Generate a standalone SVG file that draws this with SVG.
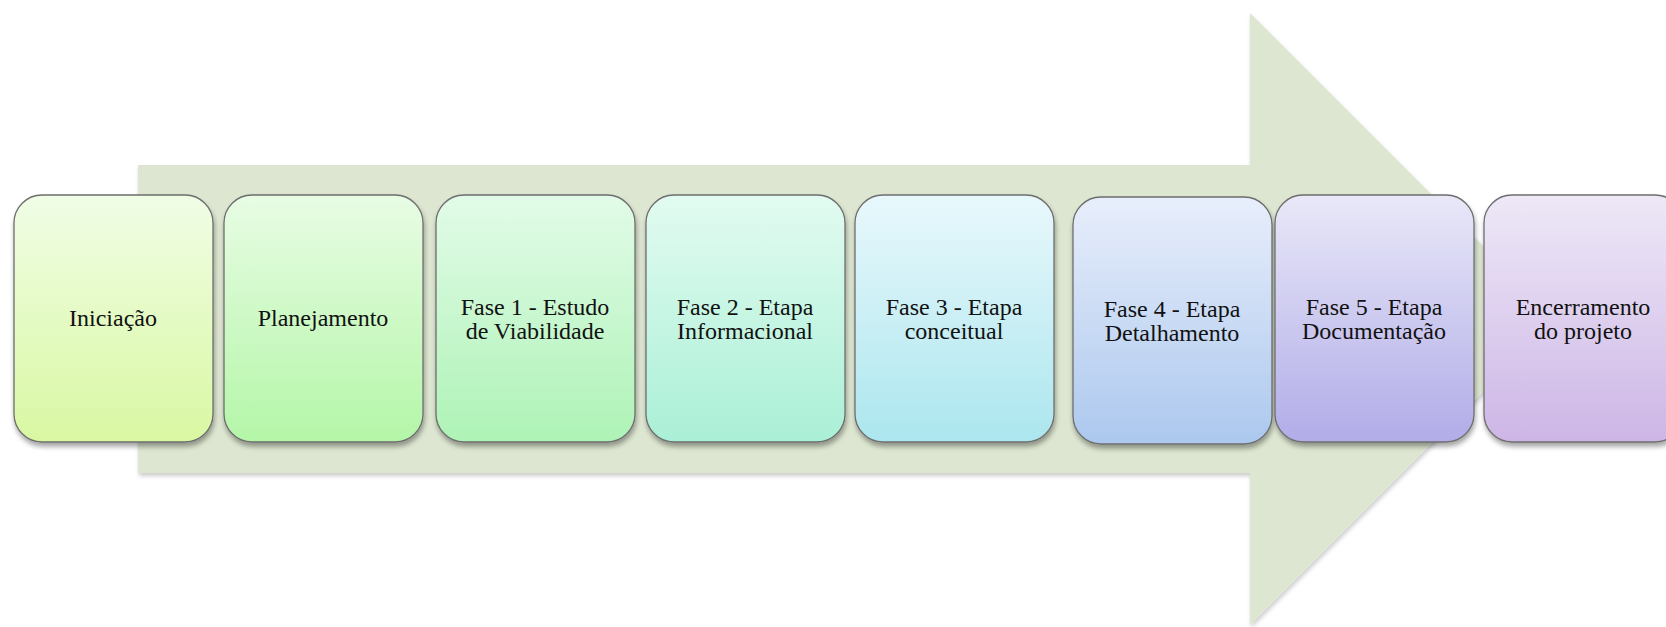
<svg xmlns="http://www.w3.org/2000/svg" width="1666" height="627" viewBox="0 0 1666 627">
<defs>
<filter id="sh" x="-10%" y="-10%" width="120%" height="125%">
<feGaussianBlur in="SourceAlpha" stdDeviation="2.5"/>
<feOffset dx="1" dy="4" result="b"/>
<feComponentTransfer><feFuncA type="linear" slope="0.35"/></feComponentTransfer>
<feMerge><feMergeNode/><feMergeNode in="SourceGraphic"/></feMerge>
</filter>
<filter id="ash" x="-5%" y="-5%" width="110%" height="110%">
<feGaussianBlur in="SourceAlpha" stdDeviation="2"/>
<feOffset dx="1" dy="3" result="b"/>
<feComponentTransfer><feFuncA type="linear" slope="0.2"/></feComponentTransfer>
<feMerge><feMergeNode/><feMergeNode in="SourceGraphic"/></feMerge>
</filter>
<linearGradient id="g1" x1="0" y1="0" x2="0" y2="1"><stop offset="0" stop-color="#f0fde6"/><stop offset="1" stop-color="#d9f8a2"/></linearGradient>
<linearGradient id="g2" x1="0" y1="0" x2="0" y2="1"><stop offset="0" stop-color="#e8fce4"/><stop offset="1" stop-color="#b4f6a8"/></linearGradient>
<linearGradient id="g3" x1="0" y1="0" x2="0" y2="1"><stop offset="0" stop-color="#e2fbe8"/><stop offset="1" stop-color="#aef3b6"/></linearGradient>
<linearGradient id="g4" x1="0" y1="0" x2="0" y2="1"><stop offset="0" stop-color="#e2fbf0"/><stop offset="1" stop-color="#aaf0d6"/></linearGradient>
<linearGradient id="g5" x1="0" y1="0" x2="0" y2="1"><stop offset="0" stop-color="#e8f8fc"/><stop offset="1" stop-color="#ace6ee"/></linearGradient>
<linearGradient id="g6" x1="0" y1="0" x2="0" y2="1"><stop offset="0" stop-color="#e8eefb"/><stop offset="1" stop-color="#acc8ee"/></linearGradient>
<linearGradient id="g7" x1="0" y1="0" x2="0" y2="1"><stop offset="0" stop-color="#e8e8f8"/><stop offset="1" stop-color="#b2ace8"/></linearGradient>
<linearGradient id="g8" x1="0" y1="0" x2="0" y2="1"><stop offset="0" stop-color="#eee8f7"/><stop offset="1" stop-color="#cdb6e6"/></linearGradient>
</defs>
<style>
.box{stroke:#6e6e6e;stroke-width:1.3;filter:url(#sh)}
.t{font-family:"Liberation Serif","DejaVu Serif",serif;font-size:24px;fill:#111;text-anchor:middle}
</style>
<rect width="1666" height="627" fill="#ffffff"/>
<g id="arrow">
<polygon points="138,165 1250,165 1250,13 1556,319 1250,625 1250,473 138,473" fill="#dde6d1" filter="url(#ash)"/>
</g>
<g id="connectors"></g>
<g id="n1"><rect class="box" x="14" y="195" width="199" height="247" rx="28" fill="url(#g1)"/><text class="t" x="113" y="326">Iniciação</text></g>
<g id="n2"><rect class="box" x="224" y="195" width="199" height="247" rx="28" fill="url(#g2)"/><text class="t" x="323" y="326">Planejamento</text></g>
<g id="n3"><rect class="box" x="436" y="195" width="199" height="247" rx="28" fill="url(#g3)"/><text class="t" x="535" y="315">Fase 1 - Estudo</text><text class="t" x="535" y="339">de Viabilidade</text></g>
<g id="n4"><rect class="box" x="646" y="195" width="199" height="247" rx="28" fill="url(#g4)"/><text class="t" x="745" y="315">Fase 2 - Etapa</text><text class="t" x="745" y="339">Informacional</text></g>
<g id="n5"><rect class="box" x="855" y="195" width="199" height="247" rx="28" fill="url(#g5)"/><text class="t" x="954" y="315">Fase 3 - Etapa</text><text class="t" x="954" y="339">conceitual</text></g>
<g id="n6"><rect class="box" x="1073" y="197" width="199" height="247" rx="28" fill="url(#g6)"/><text class="t" x="1172" y="317">Fase 4 - Etapa</text><text class="t" x="1172" y="341">Detalhamento</text></g>
<g id="n7"><rect class="box" x="1275" y="195" width="199" height="247" rx="28" fill="url(#g7)"/><text class="t" x="1374" y="315">Fase 5 - Etapa</text><text class="t" x="1374" y="339">Documentação</text></g>
<g id="n8"><rect class="box" x="1484" y="195" width="199" height="247" rx="28" fill="url(#g8)"/><text class="t" x="1583" y="315">Encerramento</text><text class="t" x="1583" y="339">do projeto</text></g>
</svg>
